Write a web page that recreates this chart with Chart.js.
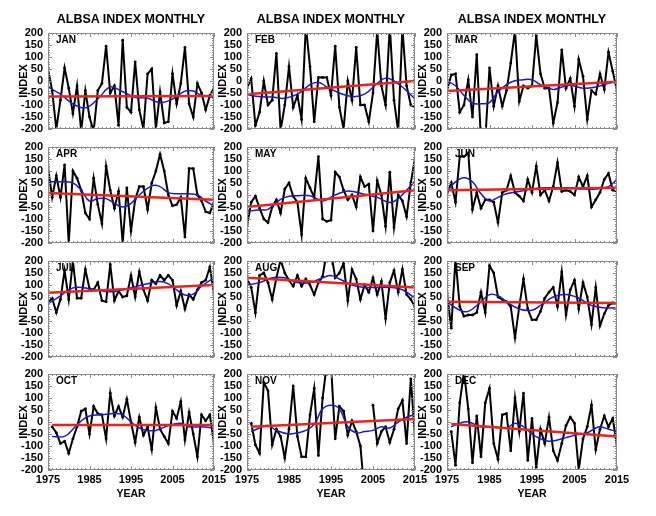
<!DOCTYPE html>
<html>
<head>
<meta charset="utf-8">
<script src="https://cdn.jsdelivr.net/npm/chart.js@4.4.1/dist/chart.umd.min.js"></script>
<style>
  body { margin: 0; background: #fff; width: 656px; height: 516px; position: relative; overflow: hidden;
         font-family: "Liberation Sans", Arial, sans-serif; }
  .panel { position: absolute; }
  .ttl { position: absolute; width: 200px; text-align: center; font-weight: bold; color: #000; white-space: nowrap; }
</style>
</head>
<body>
<script>
// --- Data ---
const YEARS = [1975, 1976, 1977, 1978, 1979, 1980, 1981, 1982, 1983, 1984, 1985, 1986, 1987, 1988,
  1989, 1990, 1991, 1992, 1993, 1994, 1995, 1996, 1997, 1998, 1999, 2000, 2001, 2002, 2003, 2004,
  2005, 2006, 2007, 2008, 2009, 2010, 2011, 2012, 2013, 2014, 2015];
const MONTHS = ['JAN', 'FEB', 'MAR', 'APR', 'MAY', 'JUN', 'JUL', 'AUG', 'SEP', 'OCT', 'NOV', 'DEC'];
const Y_TICKS = [-200, -150, -100, -50, 0, 50, 100, 150, 200];
const X_TICKS = [1975, 1985, 1995, 2005, 2015];

// yearly index values (black)
const JAN_VALUES = [50,-40,-200,-80,55,-30,-135,-20,-210,-40,-150,-210,-40,-10,145,-50,-20,-185,170,-110,-130,80,-120,-200,30,50,-200,-45,-175,-170,30,-95,-10,140,-95,-150,-10,-50,-120,-60,-30];
const FEB_VALUES = [-30,10,-185,-130,0,-100,-80,115,-205,-100,60,-110,-60,-160,230,60,-170,15,15,15,-60,145,-110,-200,0,-80,140,-100,-100,-170,-50,210,-20,-100,230,-80,-210,220,-20,-100,-110];
const MAR_VALUES = [-40,25,30,-130,-100,5,-150,110,-250,-250,55,-105,-20,-105,-40,75,210,-85,-20,-30,-20,190,30,-30,-30,-175,-90,130,-30,10,-105,90,20,-160,-40,-55,30,-35,120,40,-40];
const APR_VALUES = [115,-10,80,-10,125,-200,100,70,20,-75,-100,70,-40,-120,120,20,-55,15,-200,30,-150,-20,35,35,-60,50,100,170,100,0,-45,-40,-10,-175,110,110,0,-25,-70,-75,-30];
const MAY_VALUES = [-130,-30,-5,-55,-100,-115,-50,-20,-75,25,50,-5,-30,-165,70,30,-10,160,-100,-110,-105,95,75,20,-20,0,-50,75,35,45,-150,60,0,-130,95,-135,0,-25,-90,50,155];
const JUN_VALUES = [5,50,-30,160,160,175,-60,10,-55,-20,-20,-30,-115,10,20,80,10,-5,-25,65,10,120,0,20,-25,35,135,15,20,15,0,75,35,80,-50,-20,10,65,90,20,15];
const JUL_VALUES = [30,45,-15,40,160,40,200,45,45,165,85,80,110,35,30,185,35,75,50,55,140,50,155,80,35,120,105,140,120,140,120,15,75,0,60,40,80,110,120,175,65];
const AUG_VALUES = [125,90,-15,140,150,110,40,130,205,150,120,95,140,95,125,100,60,110,135,240,240,130,150,190,35,165,125,40,100,70,130,60,115,-40,110,160,70,165,60,40,10];
const SEP_VALUES = [65,-80,210,10,-30,-25,-25,-15,70,-15,180,150,50,40,30,10,-120,10,125,0,-45,-45,-10,45,70,90,10,155,-25,80,120,0,110,50,-65,90,-70,-20,15,25,20];
const OCT_VALUES = [null,-20,-45,-90,-80,-130,-70,-20,45,55,-50,65,35,30,-70,120,25,65,20,95,0,-85,20,-55,-20,-115,60,-30,-60,-90,45,15,85,-75,40,-50,-145,30,5,30,-90];
const NOV_VALUES = [null,-5,-95,-130,165,130,-95,-30,-60,-150,-30,150,-60,-145,-145,30,140,-140,100,240,240,-70,65,45,-55,5,-40,-100,-300,null,70,-90,-40,-20,-85,-30,55,90,-90,180,-60];
const DEC_VALUES = [null,-40,-180,80,210,55,-170,25,-145,80,140,-90,-155,30,35,-120,100,-40,120,-160,15,-190,-30,-90,20,-120,-160,-90,-15,20,-5,-200,-70,-20,70,-115,-30,25,-20,15,-100];

// smoothed curve, [year, value] (blue)
const JAN_SMOOTH = [[1975,-25],[1978,-55],[1981,-95],[1984,-112],[1987,-75],[1990,-25],[1993,-45],[1996,-68],[1999,-72],[2002,-90],[2005,-75],[2008,-42],[2010,-42],[2012,-60],[2015,-68]];
const FEB_SMOOTH = [[1975,-57],[1978,-65],[1981,-67],[1984,-72],[1987,-55],[1990,-15],[1992,-5],[1994,-25],[1997,-50],[2000,-65],[2003,-55],[2006,-10],[2008,12],[2010,0],[2012,-25],[2015,-75]];
const MAR_SMOOTH = [[1975,0],[1977,-20],[1979,-60],[1981,-92],[1983,-95],[1985,-90],[1987,-45],[1990,-5],[1993,5],[1995,5],[1997,-15],[2000,-35],[2002,-25],[2004,-18],[2007,-30],[2010,-25],[2013,-10],[2015,0]];
const APR_SMOOTH = [[1975,55],[1978,55],[1981,50],[1983,20],[1985,-25],[1987,-15],[1989,-15],[1991,-35],[1993,-50],[1995,-35],[1997,0],[2000,38],[2002,35],[2004,10],[2006,5],[2009,5],[2011,0],[2013,-25],[2015,-45]];
const MAY_SMOOTH = [[1975,-68],[1978,-62],[1980,-60],[1982,-30],[1984,-10],[1987,-3],[1990,-3],[1993,-25],[1996,0],[1999,17],[2003,3],[2006,-10],[2009,-31],[2011,-15],[2013,20],[2015,58]];
const JUN_SMOOTH = [[1975,15],[1977,55],[1979,72],[1981,55],[1983,5],[1985,-25],[1987,-10],[1989,5],[1992,15],[1995,25],[1998,30],[2001,30],[2004,30],[2007,25],[2010,25],[2013,35],[2015,65]];
const JUL_SMOOTH = [[1975,22],[1978,55],[1981,88],[1984,88],[1987,78],[1990,72],[1993,80],[1996,93],[1999,105],[2002,115],[2004,105],[2006,80],[2008,58],[2010,62],[2012,95],[2015,130]];
const AUG_SMOOTH = [[1975,100],[1978,110],[1981,130],[1984,130],[1987,110],[1990,110],[1993,130],[1995,140],[1997,125],[2000,100],[2003,90],[2006,90],[2009,90],[2012,80],[2015,45]];
const SEP_SMOOTH = [[1975,30],[1978,-5],[1980,-10],[1983,30],[1985,60],[1987,55],[1989,30],[1992,0],[1995,-5],[1997,15],[2000,50],[2003,60],[2006,45],[2009,15],[2012,5],[2015,5]];
const OCT_SMOOTH = [[1976,-60],[1979,-60],[1981,-30],[1983,5],[1985,25],[1988,30],[1991,35],[1993,30],[1995,0],[1997,-25],[1999,-35],[2001,-35],[2004,-15],[2007,-5],[2009,-20],[2012,-20],[2015,-25]];
const NOV_SMOOTH = [[1976,-40],[1978,-25],[1980,-15],[1982,-35],[1985,-50],[1987,-45],[1989,-35],[1991,-10],[1993,55],[1995,70],[1997,55],[1999,-20],[2001,-45],[2003,-40],[2005,-35],[2007,-20],[2009,-25],[2011,0],[2013,20],[2015,30]];
const DEC_SMOOTH = [[1976,-20],[1978,-5],[1980,0],[1983,-20],[1986,-20],[1989,-25],[1991,-5],[1993,-20],[1995,-50],[1997,-70],[1999,-80],[2001,-75],[2003,-65],[2005,-55],[2008,-45],[2010,-25],[2011,-20],[2013,-30],[2015,-40]];

// linear trend end points (red)
const JAN_TREND = [[1975,-65],[2015,-62]];
const FEB_TREND = [[1975,-55],[2015,0]];
const MAR_TREND = [[1975,-42],[2015,-3]];
const APR_TREND = [[1975,8],[2015,-20]];
const MAY_TREND = [[1975,-50],[2015,20]];
const JUN_TREND = [[1975,20],[2015,30]];
const JUL_TREND = [[1975,68],[2015,100]];
const AUG_TREND = [[1975,130],[2015,90]];
const SEP_TREND = [[1975,30],[2015,25]];
const OCT_TREND = [[1976,-12],[2015,-12]];
const NOV_TREND = [[1976,-20],[2015,12]];
const DEC_TREND = [[1976,-8],[2015,-60]];

const VALUES = [JAN_VALUES, FEB_VALUES, MAR_VALUES, APR_VALUES, MAY_VALUES, JUN_VALUES,
  JUL_VALUES, AUG_VALUES, SEP_VALUES, OCT_VALUES, NOV_VALUES, DEC_VALUES];
const SMOOTH = [JAN_SMOOTH, FEB_SMOOTH, MAR_SMOOTH, APR_SMOOTH, MAY_SMOOTH, JUN_SMOOTH,
  JUL_SMOOTH, AUG_SMOOTH, SEP_SMOOTH, OCT_SMOOTH, NOV_SMOOTH, DEC_SMOOTH];
const TREND = [JAN_TREND, FEB_TREND, MAR_TREND, APR_TREND, MAY_TREND, JUN_TREND,
  JUL_TREND, AUG_TREND, SEP_TREND, OCT_TREND, NOV_TREND, DEC_TREND];

// --- Layout (plot area of each panel, page pixels) ---
const COL_LEFT = [48, 247, 447];
const COL_WIDTH = [166, 168, 170];
const ROW_TOP = [33, 147, 261, 374];
const PLOT_H = 96;
const Y_AXIS_W = 48;
const PAD = 8, PAD_R = 16, X_AXIS_H = 22;
const FONT = "'Liberation Sans', Arial, sans-serif";

Chart.defaults.font.family = FONT;
Chart.defaults.color = '#000';

const toXY = pairs => pairs.map(p => ({ x: p[0], y: p[1] }));

// frame, inner tick marks and month label
const framePlugin = {
  id: 'frame',
  afterDatasetsDraw(chart, args, opts) {
    const { ctx, chartArea: a, scales: { x, y } } = chart;
    ctx.save();
    ctx.strokeStyle = '#8a8a8a';
    ctx.lineWidth = 1;
    ctx.strokeRect(a.left + 0.5, a.top + 0.5, a.right - a.left - 1, a.bottom - a.top - 1);
    ctx.beginPath();
    for (let v = -200; v <= 200; v += 10) {
      const py = Math.round(y.getPixelForValue(v)) + 0.5;
      const len = v % 50 === 0 ? 4 : 2;
      ctx.moveTo(a.left, py); ctx.lineTo(a.left + len, py);
      ctx.moveTo(a.right, py); ctx.lineTo(a.right - len, py);
    }
    YEARS.forEach(yr => {
      const px = Math.round(x.getPixelForValue(yr)) + 0.5;
      const len = (yr - 1975) % 10 === 0 ? 4 : 2;
      ctx.moveTo(px, a.top); ctx.lineTo(px, a.top + len);
      ctx.moveTo(px, a.bottom); ctx.lineTo(px, a.bottom - len);
    });
    ctx.stroke();
    ctx.fillStyle = '#000';
    ctx.font = 'bold 10px ' + FONT;
    ctx.textBaseline = 'middle';
    ctx.textAlign = 'left';
    ctx.fillText(opts.label, a.left + 8, a.top + 7);
    ctx.restore();
  }
};

function addText(text, cx, cy, size) {
  const d = document.createElement('div');
  d.className = 'ttl';
  d.textContent = text;
  d.style.fontSize = size + 'px';
  d.style.left = (cx - 100) + 'px';
  d.style.top = (cy - size * 0.6) + 'px';
  d.style.lineHeight = (size * 1.2) + 'px';
  document.body.appendChild(d);
}

MONTHS.forEach((month, i) => {
  const row = Math.floor(i / 3), col = i % 3;
  const bottomRow = row === 3;
  const w = COL_WIDTH[col];
  const div = document.createElement('div');
  div.className = 'panel';
  div.style.left = (COL_LEFT[col] - Y_AXIS_W) + 'px';
  div.style.top = (ROW_TOP[row] - PAD) + 'px';
  const cw = Y_AXIS_W + w + PAD_R;
  const ch = PAD + PLOT_H + (bottomRow ? X_AXIS_H : PAD);
  div.style.width = cw + 'px';
  div.style.height = ch + 'px';
  const canvas = document.createElement('canvas');
  div.appendChild(canvas);
  document.body.appendChild(div);

  const points = YEARS.map((yr, k) => ({ x: yr, y: VALUES[i][k] }));

  new Chart(canvas, {
    type: 'line',
    data: {
      datasets: [
        { data: toXY(TREND[i]), borderColor: '#e8231c', borderWidth: 2.5, pointRadius: 0, order: 0 },
        { data: toXY(SMOOTH[i]), borderColor: '#1a1ac4', borderWidth: 1.5, pointRadius: 0,
          tension: 0.4, order: 1 },
        { data: points, borderColor: '#000', borderWidth: 2, pointRadius: 1.4,
          pointBackgroundColor: '#000', pointBorderWidth: 0, spanGaps: false, order: 2 }
      ]
    },
    options: {
      responsive: true,
      maintainAspectRatio: false,
      animation: false,
      layout: { padding: { left: 0, top: PAD, right: PAD_R, bottom: bottomRow ? 0 : PAD } },
      plugins: { legend: { display: false }, tooltip: { enabled: false }, frame: { label: month } },
      scales: {
        x: {
          type: 'linear', min: 1975, max: 2015,
          display: bottomRow,
          afterBuildTicks: s => { s.ticks = X_TICKS.map(v => ({ value: v })); },
          ticks: { font: { size: 11, weight: 'bold' }, padding: 3, maxRotation: 0, autoSkip: false,
                   color: '#000', callback: v => String(v) },
          grid: { display: false, drawTicks: false },
          border: { display: false },
          afterFit: s => {
            s.height = bottomRow ? X_AXIS_H : 0;
            s.paddingLeft = 0; s.paddingRight = 0;
          }
        },
        y: {
          min: -200, max: 200,
          afterBuildTicks: s => { s.ticks = Y_TICKS.map(v => ({ value: v })); },
          ticks: { font: { size: 11, weight: 'bold' }, padding: 5, autoSkip: false, color: '#000',
                   callback: v => String(v) },
          grid: { display: false, drawTicks: false },
          border: { display: false },
          title: { display: true, text: 'INDEX', font: { size: 11, weight: 'bold' },
                   padding: { top: 17, bottom: 0 }, color: '#000' },
          afterFit: s => { s.width = Y_AXIS_W; s.paddingTop = 0; s.paddingBottom = 0; }
        }
      }
    },
    plugins: [framePlugin]
  });
});

// column titles and x axis titles
COL_LEFT.forEach((l, c) => {
  const cx = l + COL_WIDTH[c] / 2;
  addText('ALBSA INDEX MONTHLY', cx, 19.5, 12.5);
  addText('YEAR', cx, 493, 10.5);
});
</script>
</body>
</html>
